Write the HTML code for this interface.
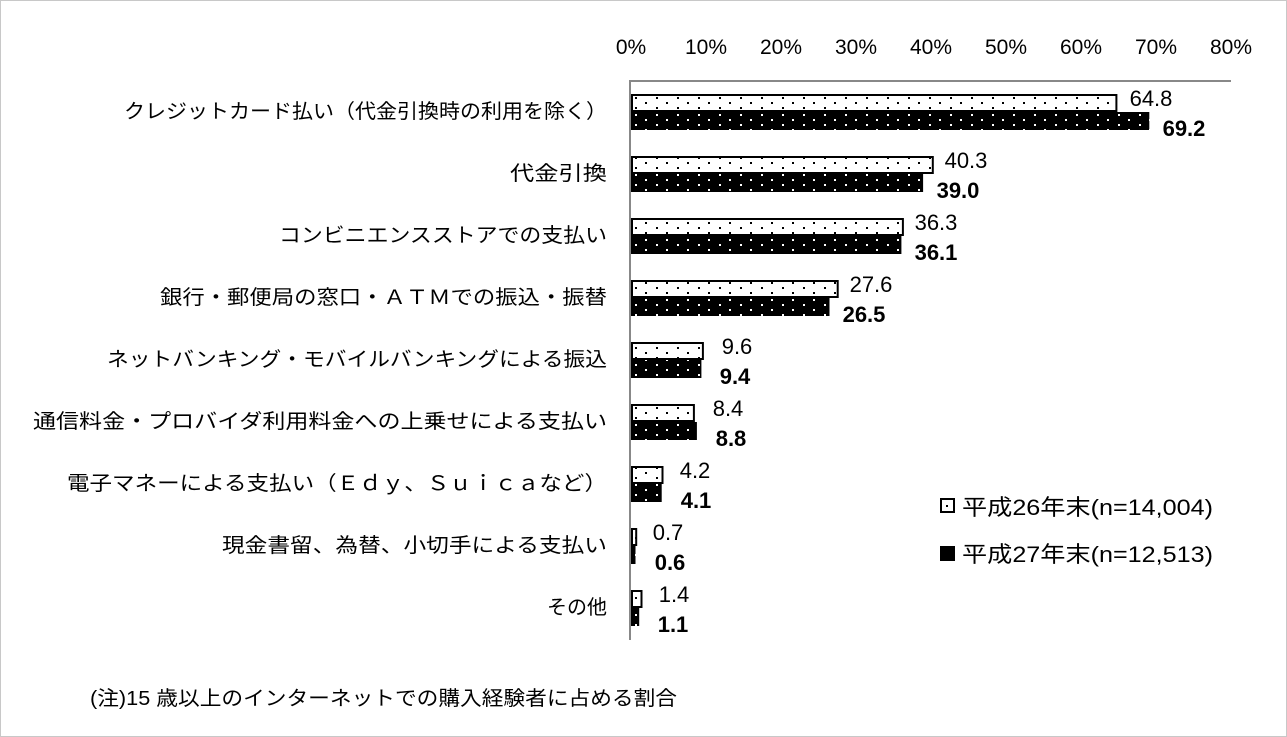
<!DOCTYPE html>
<html><head><meta charset="utf-8"><style>
body{margin:0;background:#fff}
svg{display:block;font-family:"Liberation Sans","Noto Sans CJK JP",sans-serif}
</style></head><body>
<svg width="1287" height="737" viewBox="0 0 1287 737">
<defs>
<pattern id="pw" width="21" height="10" patternUnits="userSpaceOnUse" x="631" y="94">
<rect width="21" height="10" fill="#fff"/><rect x="4" y="3" width="2" height="2" fill="#000"/><rect x="14" y="8" width="2" height="2" fill="#000"/></pattern>
<pattern id="pb" width="21" height="10" patternUnits="userSpaceOnUse" x="631" y="112">
<rect width="21" height="10" fill="#000"/><rect x="4" y="2" width="2" height="2" fill="#fff"/><rect x="14" y="7" width="2" height="2" fill="#fff"/></pattern>
</defs>
<rect x="0.5" y="0.5" width="1286" height="736" fill="#fff" stroke="#c8c8c8"/>
<g font-size="21" fill="#000" text-anchor="middle">
<text x="631" y="54">0%</text><text x="706" y="54">10%</text><text x="781" y="54">20%</text><text x="856" y="54">30%</text><text x="931" y="54">40%</text><text x="1006" y="54">50%</text><text x="1081" y="54">60%</text><text x="1156" y="54">70%</text><text x="1231" y="54">80%</text>
</g>
<line x1="630" y1="81" x2="1231" y2="81" stroke="#888" stroke-width="2"/>
<line x1="630" y1="80" x2="630" y2="640" stroke="#888" stroke-width="2"/>
<g font-size="20" fill="#000">
<text x="124" y="118" textLength="483" lengthAdjust="spacingAndGlyphs">クレジットカード払い（代金引換時の利用を除く）</text>
<text x="510" y="180" textLength="97" lengthAdjust="spacingAndGlyphs">代金引換</text>
<text x="279" y="242" textLength="328" lengthAdjust="spacingAndGlyphs">コンビニエンスストアでの支払い</text>
<text x="160" y="304" textLength="447" lengthAdjust="spacingAndGlyphs">銀行・郵便局の窓口・ＡＴＭでの振込・振替</text>
<text x="107" y="366" textLength="500" lengthAdjust="spacingAndGlyphs">ネットバンキング・モバイルバンキングによる振込</text>
<text x="33" y="428" textLength="574" lengthAdjust="spacingAndGlyphs">通信料金・プロバイダ利用料金への上乗せによる支払い</text>
<text x="67" y="490" textLength="540" lengthAdjust="spacingAndGlyphs">電子マネーによる支払い（Ｅｄｙ、Ｓｕｉｃａなど）</text>
<text x="222" y="552" textLength="385" lengthAdjust="spacingAndGlyphs">現金書留、為替、小切手による支払い</text>
<text x="607" y="614" text-anchor="end">その他</text>
</g>
<g stroke="#000" stroke-width="2" fill="url(#pw)">
<rect x="632" y="95" width="484.4" height="16"/>
<rect x="632" y="157" width="300.8" height="16"/>
<rect x="632" y="219" width="270.9" height="16"/>
<rect x="632" y="281" width="205.7" height="16"/>
<rect x="632" y="343" width="70.9" height="16"/>
<rect x="632" y="405" width="61.9" height="16"/>
<rect x="632" y="467" width="30.5" height="16"/>
<rect x="632" y="529" width="4.2" height="16"/>
<rect x="632" y="591" width="9.5" height="16"/>
</g>
<g fill="url(#pb)">
<rect x="631" y="112" width="518.3" height="18"/>
<rect x="631" y="174" width="292.1" height="18"/>
<rect x="631" y="236" width="270.4" height="18"/>
<rect x="631" y="298" width="198.5" height="18"/>
<rect x="631" y="360" width="70.4" height="18"/>
<rect x="631" y="422" width="65.9" height="18"/>
<rect x="631" y="484" width="30.7" height="18"/>
<rect x="631" y="546" width="4.5" height="18"/>
<rect x="631" y="608" width="8.2" height="18"/>
</g>
<g font-size="22" text-anchor="middle" fill="#000">
<text x="1151" y="106">64.8</text>
<text x="966" y="168">40.3</text>
<text x="936" y="230">36.3</text>
<text x="871" y="292">27.6</text>
<text x="737" y="354">9.6</text>
<text x="728" y="416">8.4</text>
<text x="695" y="478">4.2</text>
<text x="668" y="540">0.7</text>
<text x="674" y="602">1.4</text>
</g>
<g font-size="22" font-weight="bold" text-anchor="middle" fill="#000">
<text x="1184" y="136">69.2</text>
<text x="958" y="198">39.0</text>
<text x="936" y="260">36.1</text>
<text x="864" y="322">26.5</text>
<text x="735" y="384">9.4</text>
<text x="731" y="446">8.8</text>
<text x="696" y="508">4.1</text>
<text x="670" y="570">0.6</text>
<text x="673" y="632">1.1</text>
</g>
<g font-size="22" fill="#000">
<rect x="941" y="499" width="13" height="13" fill="#fff" stroke="#000" stroke-width="2"/><rect x="946" y="505" width="2" height="2"/>
<text x="962" y="515" textLength="251" lengthAdjust="spacingAndGlyphs">平成26年末(n=14,004)</text>
<rect x="940" y="546" width="15" height="15"/>
<text x="962" y="562" textLength="251" lengthAdjust="spacingAndGlyphs">平成27年末(n=12,513)</text>
<text x="90" y="705" font-size="20" textLength="587" lengthAdjust="spacingAndGlyphs">(注)15 歳以上のインターネットでの購入経験者に占める割合</text>
</g>
</svg>
</body></html>
